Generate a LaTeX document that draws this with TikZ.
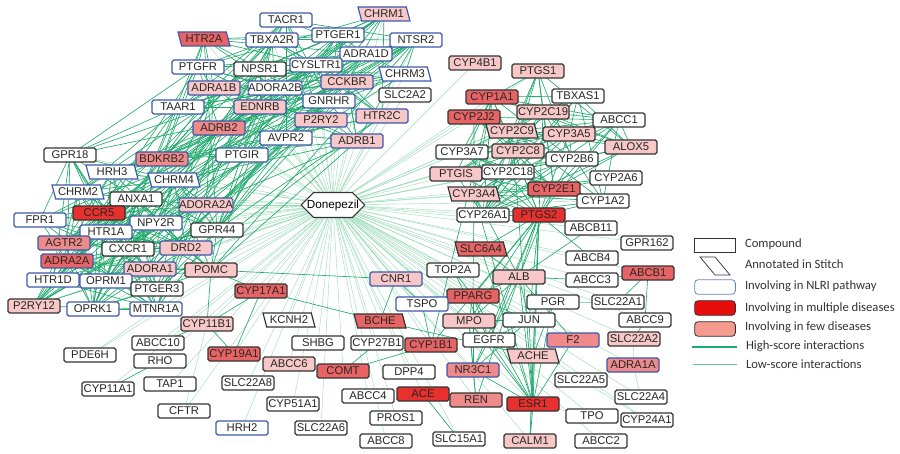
\documentclass[tikz,border=0pt]{standalone}
\usepackage{fontspec}
\setmainfont{Liberation Sans}
\newfontfamily\legendfont{Carlito}
\usetikzlibrary{shapes.geometric,shapes.misc}
\definecolor{nlriblue}{HTML}{3D58AC}
\definecolor{boxblack}{HTML}{333333}
\definecolor{redA}{HTML}{E8302F}
\definecolor{redB}{HTML}{E86464}
\definecolor{redC}{HTML}{EE8A8A}
\definecolor{redD}{HTML}{F8C8C8}
\definecolor{keyfew}{HTML}{F59A8E}
\definecolor{higreen}{HTML}{22AA6E}
\definecolor{logreen}{HTML}{9ADAB8}
\pgfdeclarelayer{edges}
\pgfsetlayers{edges,main}

\def\toplist{TACR1,HTR2A,TBXA2R,PTGFR,NPSR1,ADRA1B,ADORA2B,TAAR1,EDNRB,ADRB2,AVPR2,PTGIR,CHRM1,PTGER1,NTSR2,ADRA1D,CYSLTR1,CHRM3,CCKBR,GNRHR,P2RY2,HTR2C,ADRB1,BDKRB2}
\def\leftlist{GPR18,HRH3,CHRM4,CHRM2,ANXA1,ADORA2A,CCR5,FPR1,NPY2R,HTR1A,GPR44,AGTR2,CXCR1,DRD2,ADRA2A,ADORA1,POMC,HTR1D,OPRM1,PTGER3,P2RY12,OPRK1,MTNR1A}
\def\cyplist{PTGS1,CYP1A1,TBXAS1,CYP2C19,CYP2J2,ABCC1,CYP2C9,CYP3A5,ALOX5,CYP3A7,CYP2C8,CYP2B6,PTGIS,CYP2C18,CYP2A6,CYP3A4,CYP2E1,CYP1A2,CYP26A1,PTGS2}
\def\restlist{SLC2A2,CYP4B1,ABCB11,GPR162,SLC6A4,ABCB4,TOP2A,CNR1,ALB,ABCC3,ABCB1,PPARG,TSPO,PGR,SLC22A1,ABCC9,BCHE,MPO,JUN,SHBG,CYP27B1,CYP1B1,EGFR,F2,SLC22A2,ACHE,ADRA1A,ABCC6,COMT,DPP4,NR3C1,SLC22A5,SLC22A4,ABCC4,ACE,REN,ESR1,TPO,CYP24A1,PROS1,ABCC8,SLC15A1,CALM1,ABCC2,SLC22A6,CYP17A1,CYP11B1,KCNH2,ABCC10,PDE6H,RHO,CYP19A1,SLC22A8,TAP1,CYP11A1,CYP51A1,CFTR,HRH2}

\begin{document}
\begin{tikzpicture}[x=0.03cm,y=-0.03cm,inner sep=0pt,outer sep=0pt,
gene/.style={rectangle,rounded corners=1.5pt,line width=1pt,minimum width=1.56cm,minimum height=0.42cm,fill=white,text=black!85,font=\fontsize{9.6}{10}\selectfont},
nlrigene/.style={gene,draw=nlriblue},
plaingene/.style={gene,draw=boxblack},
stitch/.style={trapezium,trapezium left angle=115,trapezium right angle=65,trapezium stretches body,sharp corners,minimum width=1.56cm},
drug/.style={chamfered rectangle,chamfered rectangle xsep=0.28cm,chamfered rectangle ysep=0.2cm,draw=boxblack,line width=1pt,fill=white,minimum width=1.8cm,minimum height=0.75cm,font=\fontsize{10}{11}\selectfont},
hiedge/.style={higreen,line width=0.55pt},
lowedge/.style={logreen,line width=0.35pt},
keytext/.style={anchor=west,text=black!80,font=\legendfont\fontsize{10.8}{12}\selectfont}]

\useasboundingbox (0,0) rectangle (900,454);

\draw (333,205) node[drug] (Donepezil) {Donepezil};

\draw (286,20) node[nlrigene] (TACR1) {TACR1};
\draw (204,39) node[nlrigene,stitch,fill=redB] (HTR2A) {HTR2A};
\draw (272,40) node[nlrigene] (TBXA2R) {TBXA2R};
\draw (198,67) node[nlrigene] (PTGFR) {PTGFR};
\draw (260,69) node[plaingene] (NPSR1) {NPSR1};
\draw (214,88) node[nlrigene,fill=redD] (ADRA1B) {ADRA1B};
\draw (275,88) node[nlrigene] (ADORA2B) {ADORA2B};
\draw (178,107) node[nlrigene] (TAAR1) {TAAR1};
\draw (260,107) node[nlrigene,fill=redD] (EDNRB) {EDNRB};
\draw (219,128) node[nlrigene,fill=redC] (ADRB2) {ADRB2};
\draw (286,138) node[nlrigene] (AVPR2) {AVPR2};
\draw (70,155) node[plaingene] (GPR18) {GPR18};
\draw (162,159) node[nlrigene,fill=redC] (BDKRB2) {BDKRB2};
\draw (242,155) node[nlrigene] (PTGIR) {PTGIR};
\draw (384,14) node[nlrigene,stitch,fill=redD] (CHRM1) {CHRM1};
\draw (338,35) node[nlrigene] (PTGER1) {PTGER1};
\draw (416,40) node[nlrigene] (NTSR2) {NTSR2};
\draw (366,54) node[nlrigene] (ADRA1D) {ADRA1D};
\draw (316,65) node[nlrigene] (CYSLTR1) {CYSLTR1};
\draw (405,74) node[nlrigene,stitch] (CHRM3) {CHRM3};
\draw (347,82) node[nlrigene,fill=redD] (CCKBR) {CCKBR};
\draw (405,95) node[plaingene] (SLC2A2) {SLC2A2};
\draw (329,101) node[nlrigene] (GNRHR) {GNRHR};
\draw (321,120) node[nlrigene,fill=redD] (P2RY2) {P2RY2};
\draw (382,116) node[nlrigene,fill=redD] (HTR2C) {HTR2C};
\draw (357,141) node[nlrigene,fill=redD] (ADRB1) {ADRB1};

\draw (475,63) node[plaingene,fill=redD] (CYP4B1) {CYP4B1};
\draw (538,71) node[plaingene,fill=redD] (PTGS1) {PTGS1};
\draw (492,97) node[plaingene,fill=redB] (CYP1A1) {CYP1A1};
\draw (578,96) node[plaingene] (TBXAS1) {TBXAS1};
\draw (543,112) node[plaingene,fill=redD] (CYP2C19) {CYP2C19};
\draw (474,117) node[plaingene,fill=redB] (CYP2J2) {CYP2J2};
\draw (619,120) node[plaingene] (ABCC1) {ABCC1};
\draw (512,131) node[plaingene,stitch,fill=redD] (CYP2C9) {CYP2C9};
\draw (569,134) node[plaingene,fill=redD] (CYP3A5) {CYP3A5};
\draw (631,147) node[plaingene,fill=redD] (ALOX5) {ALOX5};
\draw (462,152) node[plaingene] (CYP3A7) {CYP3A7};
\draw (518,151) node[plaingene,fill=redD] (CYP2C8) {CYP2C8};
\draw (572,159) node[plaingene] (CYP2B6) {CYP2B6};
\draw (456,174) node[plaingene,fill=redD] (PTGIS) {PTGIS};
\draw (508,172) node[plaingene] (CYP2C18) {CYP2C18};
\draw (616,178) node[plaingene] (CYP2A6) {CYP2A6};
\draw (474,194) node[plaingene,stitch,fill=redD] (CYP3A4) {CYP3A4};
\draw (554,189) node[plaingene,fill=redB] (CYP2E1) {CYP2E1};
\draw (603,201) node[plaingene] (CYP1A2) {CYP1A2};
\draw (483,215) node[plaingene] (CYP26A1) {CYP26A1};
\draw (539,215) node[plaingene,fill=redA] (PTGS2) {PTGS2};

\draw (591,228) node[plaingene] (ABCB11) {ABCB11};
\draw (647,243) node[plaingene] (GPR162) {GPR162};
\draw (481,249) node[plaingene,stitch,fill=redB] (SLC6A4) {SLC6A4};
\draw (592,258) node[plaingene] (ABCB4) {ABCB4};
\draw (453,270) node[plaingene] (TOP2A) {TOP2A};
\draw (396,279) node[nlrigene,fill=redD] (CNR1) {CNR1};
\draw (519,277) node[plaingene,fill=redD] (ALB) {ALB};
\draw (592,280) node[plaingene] (ABCC3) {ABCC3};
\draw (648,273) node[plaingene,fill=redB] (ABCB1) {ABCB1};
\draw (473,296) node[plaingene,fill=redB] (PPARG) {PPARG};
\draw (422,304) node[nlrigene] (TSPO) {TSPO};
\draw (553,302) node[plaingene] (PGR) {PGR};
\draw (618,302) node[plaingene] (SLC22A1) {SLC22A1};
\draw (645,320) node[plaingene] (ABCC9) {ABCC9};
\draw (380,321) node[plaingene,stitch,fill=redB] (BCHE) {BCHE};
\draw (469,321) node[plaingene,fill=redD] (MPO) {MPO};
\draw (529,320) node[plaingene] (JUN) {JUN};
\draw (318,343) node[plaingene] (SHBG) {SHBG};
\draw (377,343) node[plaingene] (CYP27B1) {CYP27B1};
\draw (431,345) node[plaingene,fill=redB] (CYP1B1) {CYP1B1};
\draw (489,340) node[plaingene] (EGFR) {EGFR};
\draw (573,340) node[nlrigene,fill=redC] (F2) {F2};
\draw (634,339) node[plaingene,fill=redD] (SLC22A2) {SLC22A2};
\draw (533,356) node[plaingene,stitch,fill=redD] (ACHE) {ACHE};
\draw (633,365) node[nlrigene,fill=redC] (ADRA1A) {ADRA1A};
\draw (289,364) node[plaingene,fill=redD] (ABCC6) {ABCC6};
\draw (343,371) node[plaingene,fill=redB] (COMT) {COMT};
\draw (409,372) node[plaingene] (DPP4) {DPP4};
\draw (473,370) node[nlrigene,fill=redC] (NR3C1) {NR3C1};
\draw (581,380) node[plaingene] (SLC22A5) {SLC22A5};
\draw (641,397) node[plaingene] (SLC22A4) {SLC22A4};
\draw (368,396) node[plaingene] (ABCC4) {ABCC4};
\draw (423,394) node[plaingene,fill=redA] (ACE) {ACE};
\draw (476,400) node[plaingene,fill=redC] (REN) {REN};
\draw (533,404) node[plaingene,fill=redA] (ESR1) {ESR1};
\draw (592,416) node[plaingene] (TPO) {TPO};
\draw (647,420) node[plaingene] (CYP24A1) {CYP24A1};
\draw (396,418) node[plaingene] (PROS1) {PROS1};
\draw (386,441) node[plaingene] (ABCC8) {ABCC8};
\draw (459,439) node[plaingene] (SLC15A1) {SLC15A1};
\draw (530,441) node[plaingene,fill=redD] (CALM1) {CALM1};
\draw (601,441) node[plaingene] (ABCC2) {ABCC2};
\draw (321,428) node[plaingene] (SLC22A6) {SLC22A6};

\draw (112,172) node[nlrigene,stitch] (HRH3) {HRH3};
\draw (174,180) node[nlrigene,stitch] (CHRM4) {CHRM4};
\draw (78,192) node[nlrigene,stitch] (CHRM2) {CHRM2};
\draw (136,199) node[plaingene] (ANXA1) {ANXA1};
\draw (206,205) node[nlrigene,fill=redD] (ADORA2A) {ADORA2A};
\draw (99,213) node[plaingene,fill=redA] (CCR5) {CCR5};
\draw (40,220) node[nlrigene] (FPR1) {FPR1};
\draw (156,223) node[nlrigene] (NPY2R) {NPY2R};
\draw (106,232) node[nlrigene] (HTR1A) {HTR1A};
\draw (217,230) node[plaingene] (GPR44) {GPR44};
\draw (64,243) node[nlrigene,fill=redC] (AGTR2) {AGTR2};
\draw (128,249) node[plaingene] (CXCR1) {CXCR1};
\draw (186,248) node[nlrigene,fill=redD] (DRD2) {DRD2};
\draw (67,261) node[nlrigene,fill=redB] (ADRA2A) {ADRA2A};
\draw (150,269) node[nlrigene,fill=redD] (ADORA1) {ADORA1};
\draw (211,270) node[plaingene,fill=redD] (POMC) {POMC};
\draw (53,280) node[nlrigene] (HTR1D) {HTR1D};
\draw (106,281) node[nlrigene] (OPRM1) {OPRM1};
\draw (157,289) node[plaingene] (PTGER3) {PTGER3};
\draw (261,291) node[plaingene,fill=redB] (CYP17A1) {CYP17A1};
\draw (34,306) node[plaingene,fill=redD] (P2RY12) {P2RY12};
\draw (93,309) node[nlrigene] (OPRK1) {OPRK1};
\draw (156,309) node[nlrigene] (MTNR1A) {MTNR1A};
\draw (207,324) node[plaingene,fill=redD] (CYP11B1) {CYP11B1};
\draw (289,320) node[plaingene,stitch] (KCNH2) {KCNH2};
\draw (158,343) node[plaingene] (ABCC10) {ABCC10};
\draw (90,355) node[plaingene] (PDE6H) {PDE6H};
\draw (160,361) node[plaingene] (RHO) {RHO};
\draw (234,354) node[plaingene,fill=redB] (CYP19A1) {CYP19A1};
\draw (248,383) node[plaingene] (SLC22A8) {SLC22A8};
\draw (170,384) node[plaingene] (TAP1) {TAP1};
\draw (108,389) node[plaingene] (CYP11A1) {CYP11A1};
\draw (293,404) node[plaingene] (CYP51A1) {CYP51A1};
\draw (184,411) node[plaingene] (CFTR) {CFTR};
\draw (242,428) node[nlrigene] (HRH2) {HRH2};

\begin{pgfonlayer}{edges}
\foreach \n in \toplist {\draw[lowedge] (Donepezil) -- (\n);}
\foreach \n in \leftlist {\draw[lowedge] (Donepezil) -- (\n);}
\foreach \n in \cyplist {\draw[lowedge] (Donepezil) -- (\n);}
\foreach \n in \restlist {\draw[lowedge] (Donepezil) -- (\n);}
\foreach \a/\b in {GPR162/ABCB11,SLC22A5/CYP24A1,ADRA1A/SLC22A4,SLC22A1/PGR,ADRA1A/SLC22A2,TPO/ESR1,PDE6H/MTNR1A,CFTR/CYP11B1}
  {\draw[lowedge] (\a) -- (\b);}

\foreach \a [count=\i] in \toplist {
  \foreach \b [count=\j] in \toplist {
    \pgfmathtruncatemacro\k{mod(\i*\i*\j+7*\j+3*\i,10)}
    \ifnum\j>\i\relax\ifnum\k<4\relax\draw[hiedge] (\a) -- (\b);\fi\fi
  }
}
\foreach \a [count=\i] in \leftlist {
  \foreach \b [count=\j] in \leftlist {
    \pgfmathtruncatemacro\k{mod(\i*\i*\j+5*\j+2*\i,10)}
    \ifnum\j>\i\relax\ifnum\k<4\relax\draw[hiedge] (\a) -- (\b);\fi\fi
  }
}
\foreach \a [count=\i] in \toplist {
  \foreach \b [count=\j] in \leftlist {
    \pgfmathtruncatemacro\k{mod(\i*\i*\j+5*\j+\i,25)}
    \ifnum\k<3\relax\draw[hiedge] (\a) -- (\b);\fi
  }
}
\foreach \a [count=\i] in \cyplist {
  \foreach \b [count=\j] in \cyplist {
    \pgfmathtruncatemacro\k{mod(\i*\i*\j+3*\j+5*\i,10)}
    \ifnum\j>\i\relax\ifnum\k<5\relax\draw[hiedge] (\a) -- (\b);\fi\fi
  }
}
\foreach \a/\b in {ESR1/EGFR,ESR1/JUN,ESR1/PGR,ESR1/ALB,ESR1/CALM1,ESR1/NR3C1,ESR1/PPARG,ESR1/MPO,ESR1/ACHE,ESR1/PTGS2,ESR1/SLC6A4,ESR1/F2,
  EGFR/JUN,EGFR/ALB,EGFR/PTGS2,EGFR/NR3C1,EGFR/PPARG,EGFR/TOP2A,EGFR/ACHE,JUN/PTGS2,JUN/PPARG,JUN/ALB,JUN/MPO,JUN/NR3C1,
  ALB/PPARG,ALB/PTGS2,ALB/ABCC3,ALB/MPO,ALB/SLC6A4,ALB/F2,ALB/REN,ALB/ABCB11,PTGS2/PPARG,PTGS2/CYP26A1,PTGS2/NR3C1,PTGS2/SLC6A4,
  PTGS2/ABCB4,PTGS2/CALM1,PTGS2/ACHE,PTGS2/MPO,PTGS2/CYP1B1,PPARG/MPO,PPARG/NR3C1,PPARG/TOP2A,MPO/NR3C1,MPO/REN,ACE/REN,ACE/SLC15A1,
  REN/NR3C1,CNR1/BCHE,CNR1/TSPO,CNR1/POMC,TSPO/CYP1B1,BCHE/CYP17A1,BCHE/ACHE,COMT/CYP1B1,COMT/CYP27B1,ACHE/CALM1,ACHE/PGR,
  ABCB1/SLC22A1,ABCB1/ABCC9,ABCB1/ABCC3,ABCC9/SLC22A2,CYP17A1/CYP11B1,CYP17A1/POMC,CYP11B1/CYP19A1,CYP11B1/ABCC10,CYP11B1/POMC,
  CYP17A1/CYP19A1,RHO/CYP11A1,POMC/ADORA1,POMC/DRD2,POMC/GPR44,CYP1A1/PTGS2,CYP3A4/ESR1,CYP1A1/CYP1B1,CYP2E1/ALB,CYP3A4/PPARG,
  PTGIS/PTGS2,CYP3A4/ALB,CYP2C9/ESR1}
  {\draw[hiedge] (\a) -- (\b);}
\end{pgfonlayer}

\draw (715,245) node[drug,minimum width=1.23cm,minimum height=0.42cm,chamfered rectangle xsep=0.16cm,chamfered rectangle ysep=0.1cm,line width=0.6pt] (keyDrug) {};
\coordinate (keyTL) at (700,257);
\coordinate (keyTR) at (715,257);
\coordinate (keyBR) at (730,275);
\coordinate (keyBL) at (715,275);
\draw[boxblack,line width=0.6pt] (keyTL) -- (keyTR) -- (keyBR) -- (keyBL) -- cycle;
\draw (715,287) node[draw=nlriblue!75,rounded corners=3pt,line width=0.7pt,minimum width=1.22cm,minimum height=0.44cm] (keyNLRI) {};
\draw (715,308) node[draw=boxblack,fill=red!90!black!95,rounded corners=3pt,line width=0.7pt,minimum width=1.22cm,minimum height=0.44cm] (keyMulti) {};
\draw (715,329) node[draw=boxblack,fill=keyfew,rounded corners=3pt,line width=0.7pt,minimum width=1.22cm,minimum height=0.44cm] (keyFew) {};
\coordinate (hiA) at (692,347);
\coordinate (hiB) at (737,347);
\coordinate (loA) at (693,364);
\coordinate (loB) at (737,364);
\draw[higreen,line width=2.4pt] (hiA) -- (hiB);
\draw[higreen!70,line width=0.7pt] (loA) -- (loB);
\draw (745,244) node[keytext] {Compound};
\draw (745,264) node[keytext] {Annotated in Stitch};
\draw (745,286) node[keytext] {Involving in NLRI pathway};
\draw (745,308) node[keytext] {Involving in multiple diseases};
\draw (745,327) node[keytext] {Involving in few diseases};
\draw (746,346) node[keytext] {High-score interactions};
\draw (746,364) node[keytext] {Low-score interactions};
\end{tikzpicture}
\end{document}
